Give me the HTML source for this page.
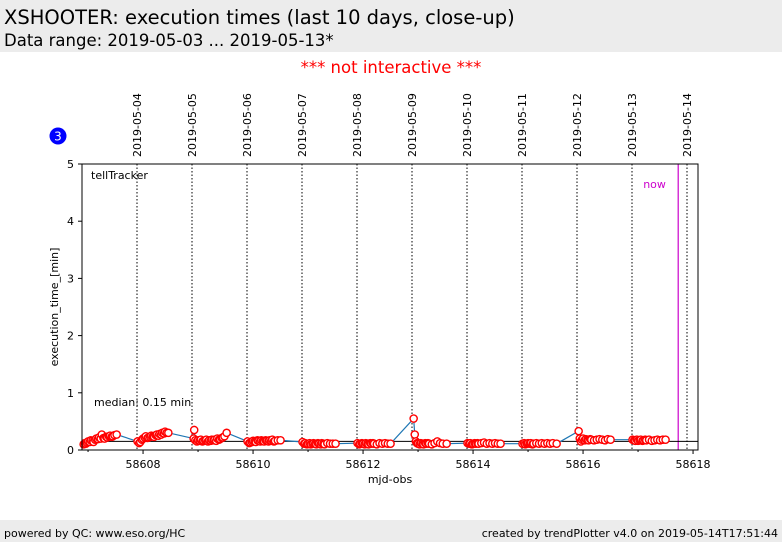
<!DOCTYPE html>
<html><head><meta charset="utf-8">
<style>
body{margin:0;width:782px;height:542px;background:#fff;font-family:"DejaVu Sans","Liberation Sans",sans-serif;overflow:hidden;position:relative}
.hdr{position:absolute;left:0;top:0;width:782px;height:52px;background:#ececec}
.t1{position:absolute;left:4px;top:6px;font-size:19.5px;color:#000}
.t2{position:absolute;left:4px;top:31px;font-size:16.5px;color:#000}
.ni{position:absolute;left:0;width:782px;top:58px;text-align:center;color:#f00;font-size:16.5px}
.ftr{position:absolute;left:0;top:520px;width:782px;height:22px;background:#ececec;font-size:11px}
.ftr span{position:absolute;top:7px}
svg{position:absolute;left:0;top:0}
</style></head><body>
<div class="hdr">
<div class="t1">XSHOOTER: execution times (last 10 days, close-up)</div>
<div class="t2">Data range: 2019-05-03 ... 2019-05-13*</div>
</div>
<div class="ni">*** not interactive ***</div>
<svg id="chart" width="782" height="542"></svg>
<div class="ftr">
<span style="left:4px">powered by QC: www.eso.org/HC</span>
<span style="right:4px">created by trendPlotter v4.0 on 2019-05-14T17:51:44</span>
</div>
<script>
const xTicks=[58608,58610,58612,58614,58616,58618];
const yTicks=[0,1,2,3,4,5];
const dayLabels=["2019-05-04","2019-05-05","2019-05-06","2019-05-07","2019-05-08","2019-05-09","2019-05-10","2019-05-11","2019-05-12","2019-05-13","2019-05-14"];
const dayLineMjd=[58607.89,58608.89,58609.89,58610.89,58611.89,58612.89,58613.89,58614.89,58615.89,58616.89,58617.89];
const medianValue=0.15;
const nowMjd=58617.73;
const mjd=[58606.92,58606.94,58606.96,58606.98,58607.0,58607.03,58607.05,58607.08,58607.1,58607.13,58607.15,58607.18,58607.2,58607.23,58607.25,58607.28,58607.3,58607.33,58607.35,58607.38,58607.4,58607.43,58607.45,58607.48,58607.52,
58607.9,58607.93,58607.95,58607.98,58608.0,58608.03,58608.05,58608.08,58608.1,58608.13,58608.15,58608.18,58608.2,58608.23,58608.25,58608.28,58608.3,58608.33,58608.35,58608.38,58608.4,58608.43,58608.46,
58608.92,58608.93,58608.95,58608.98,58609.0,58609.03,58609.05,58609.08,58609.1,58609.13,58609.15,58609.18,58609.2,58609.23,58609.25,58609.28,58609.3,58609.33,58609.35,58609.38,58609.4,58609.43,58609.45,58609.48,58609.52,
58609.9,58609.93,58609.95,58609.98,58610.0,58610.03,58610.05,58610.08,58610.1,58610.13,58610.15,58610.18,58610.2,58610.23,58610.25,58610.28,58610.3,58610.33,58610.35,58610.38,58610.4,58610.45,58610.5,
58610.9,58610.93,58610.95,58610.98,58611.0,58611.03,58611.05,58611.08,58611.1,58611.13,58611.15,58611.18,58611.2,58611.23,58611.25,58611.28,58611.3,58611.35,58611.4,58611.45,58611.5,
58611.9,58611.93,58611.95,58611.98,58612.0,58612.03,58612.05,58612.08,58612.1,58612.13,58612.15,58612.18,58612.2,58612.25,58612.3,58612.35,58612.4,58612.45,58612.5,
58612.92,58612.94,58612.96,58612.98,58613.0,58613.03,58613.05,58613.08,58613.1,58613.13,58613.15,58613.18,58613.2,58613.25,58613.3,58613.35,58613.4,58613.45,58613.52,
58613.9,58613.93,58613.95,58613.98,58614.0,58614.03,58614.05,58614.08,58614.1,58614.15,58614.2,58614.25,58614.3,58614.35,58614.4,58614.45,58614.5,
58614.9,58614.93,58614.95,58614.98,58615.0,58615.03,58615.05,58615.08,58615.1,58615.15,58615.2,58615.25,58615.3,58615.35,58615.4,58615.45,58615.52,
58615.92,58615.94,58615.96,58615.98,58616.0,58616.03,58616.05,58616.08,58616.1,58616.13,58616.15,58616.2,58616.25,58616.3,58616.35,58616.4,58616.45,58616.5,
58616.9,58616.93,58616.95,58616.98,58617.0,58617.03,58617.05,58617.08,58617.1,58617.13,58617.15,58617.2,58617.25,58617.3,58617.35,58617.4,58617.45,58617.5];
const execTime=[0.1,0.12,0.11,0.13,0.15,0.14,0.17,0.16,0.14,0.18,0.2,0.19,0.22,0.2,0.27,0.21,0.2,0.23,0.22,0.24,0.25,0.23,0.24,0.26,0.27,
0.15,0.12,0.14,0.18,0.2,0.22,0.24,0.21,0.22,0.23,0.25,0.24,0.23,0.26,0.27,0.25,0.28,0.27,0.3,0.29,0.32,0.3,0.3,
0.2,0.35,0.17,0.15,0.17,0.16,0.18,0.15,0.16,0.17,0.18,0.15,0.17,0.16,0.18,0.17,0.18,0.16,0.2,0.18,0.19,0.21,0.22,0.24,0.3,
0.15,0.12,0.13,0.14,0.16,0.15,0.14,0.17,0.16,0.15,0.17,0.16,0.15,0.17,0.16,0.15,0.17,0.16,0.18,0.15,0.16,0.17,0.17,
0.14,0.11,0.12,0.1,0.11,0.12,0.1,0.11,0.12,0.11,0.1,0.12,0.11,0.1,0.12,0.11,0.1,0.12,0.11,0.11,0.11,
0.12,0.1,0.11,0.12,0.11,0.1,0.12,0.11,0.1,0.12,0.11,0.12,0.11,0.1,0.12,0.11,0.12,0.11,0.11,
0.55,0.27,0.15,0.12,0.11,0.1,0.12,0.11,0.1,0.12,0.11,0.12,0.11,0.1,0.12,0.15,0.12,0.11,0.11,
0.12,0.11,0.12,0.1,0.11,0.12,0.11,0.12,0.11,0.12,0.13,0.11,0.12,0.11,0.12,0.11,0.11,
0.11,0.12,0.1,0.11,0.12,0.11,0.12,0.1,0.11,0.12,0.11,0.12,0.11,0.12,0.11,0.12,0.11,
0.33,0.2,0.15,0.18,0.2,0.17,0.19,0.18,0.17,0.19,0.18,0.17,0.18,0.19,0.18,0.17,0.19,0.18,
0.18,0.17,0.16,0.18,0.16,0.17,0.18,0.16,0.17,0.18,0.17,0.18,0.16,0.17,0.18,0.17,0.18,0.18];

const L=82,R=698,T=164,B=450,X0=58606.89,X1=58618.09,Y0=0,Y1=5;
const xs=v=>L+(v-X0)/(X1-X0)*(R-L);
const ys=v=>B-(v-Y0)/(Y1-Y0)*(B-T);
const svg=document.getElementById('chart');
const NS='http://www.w3.org/2000/svg';
function mk(tag,attrs,parent){const e=document.createElementNS(NS,tag);for(const k in attrs)e.setAttribute(k,attrs[k]);(parent||svg).appendChild(e);return e;}

mk('rect',{x:L,y:T,width:R-L,height:B-T,fill:'#fff',stroke:'none'});
dayLineMjd.forEach((d,i)=>{
 const x=xs(d);
 const l=mk('line',{x1:x,x2:x,y1:T,y2:B,stroke:'#000','stroke-width':1,'stroke-dasharray':'1.5,2'});
 
 
 const t=mk('text',{x:x+4,y:157,transform:`rotate(-90 ${x+4} 157)`,'font-size':11,fill:'#000','font-family':'DejaVu Sans, sans-serif'});
 t.textContent=dayLabels[i];
 
 
});
const nl=mk('line',{x1:xs(nowMjd),x2:xs(nowMjd),y1:T,y2:B,stroke:'#c0c',"stroke-width":1.2});


const nt=mk('text',{x:xs(nowMjd)-35,y:188,'font-size':11,fill:'#c0c','font-family':'DejaVu Sans, sans-serif'});nt.textContent='now';


const ml=mk('line',{x1:L,x2:R,y1:ys(medianValue),y2:ys(medianValue),stroke:'#000','stroke-width':1});


let pts=mjd.map((m,i)=>xs(m)+','+ys(execTime[i])).join(' ');
const pl=mk('polyline',{points:pts,fill:'none',stroke:'#1f77b4','stroke-width':1.2});


mjd.forEach((m,i)=>{
 const c=mk('circle',{cx:xs(m),cy:ys(execTime[i]),r:3.6,fill:'#fff',stroke:'#f00','stroke-width':1.4});
 
 
});
mk('rect',{x:L,y:T,width:R-L,height:B-T,fill:'none',stroke:'#000','stroke-width':1});
for(let d=58607;d<=58618;d++){mk('line',{x1:xs(d),x2:xs(d),y1:B,y2:B+(d%2?2:4),stroke:'#000'});}
xTicks.forEach(v=>{
 const t=mk('text',{x:xs(v),y:B+18,'text-anchor':'middle','font-size':11,'font-family':'DejaVu Sans, sans-serif'});t.textContent=v;
 
 
});
yTicks.forEach(v=>{
 mk('line',{x1:L-4,x2:L,y1:ys(v),y2:ys(v),stroke:'#000'});
 const t=mk('text',{x:L-8,y:ys(v)+4,'text-anchor':'end','font-size':11,'font-family':'DejaVu Sans, sans-serif'});t.textContent=v;
 
 
});
const xt=mk('text',{x:390,y:483,'text-anchor':'middle','font-size':11,'font-family':'DejaVu Sans, sans-serif'});xt.textContent='mjd-obs';


const yt=mk('text',{x:58,y:307,'text-anchor':'middle','font-size':11,transform:'rotate(-90 58 307)','font-family':'DejaVu Sans, sans-serif'});yt.textContent='execution_time_[min]';


const tt=mk('text',{x:91,y:179,'font-size':11,'font-family':'DejaVu Sans, sans-serif'});tt.textContent='tellTracker';


const mt=mk('text',{x:94,y:406,'font-size':11,'font-family':'DejaVu Sans, sans-serif'});mt.textContent='median: 0.15 min';


const bc=mk('circle',{cx:58,cy:136,r:8.5,fill:'#00f'});


const bt=mk('text',{x:58,y:140.5,'text-anchor':'middle','font-size':12,fill:'#fff','font-family':'DejaVu Sans, sans-serif'});bt.textContent='3';


</script>
</body></html>
